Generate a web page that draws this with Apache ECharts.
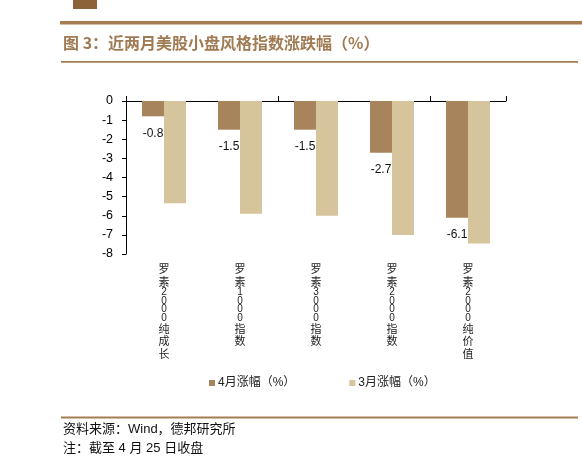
<!DOCTYPE html>
<html>
<head>
<meta charset="utf-8">
<script src="https://cdn.jsdelivr.net/npm/echarts@6/dist/echarts.min.js"></script>
<style>
html,body{margin:0;padding:0;background:#fff;}
#c{width:582px;height:467px;}
</style>
</head>
<body>
<div id="c"></div>
<script>
const categories = ['罗素2000纯成长', '罗素1000指数', '罗素3000指数', '罗素2000指数', '罗素2000纯价值'];
const aprChange = [-0.8, -1.5, -1.5, -2.7, -6.1];
const marChange = [-5.35, -5.9, -6.0, -7.0, -7.45];
const seriesNames = ['4月涨幅（%）', '3月涨幅（%）'];
const yTicks = { min: -8, max: 0, interval: 1 };

const brown = '#A07A52';
const darkBar = '#A8845C';
const lightBar = '#D5C49C';

const chart = echarts.init(document.getElementById('c'), null, { renderer: 'canvas' });

function verticalLabel(v) {
  return v.split('').map(ch => /[0-9]/.test(ch) ? '{d|' + ch + '}' : '{c|' + ch + '}').join('\n');
}

const option = {
  backgroundColor: '#fff',
  animation: false,
  textStyle: { fontFamily: 'Liberation Sans, "Noto Sans CJK SC", sans-serif' },
  grid: { left: 126, right: 76, top: 101, bottom: 213, containLabel: false },
  legend: {
    data: seriesNames,
    left: 204,
    top: 372,
    itemWidth: 6,
    itemHeight: 6,
    itemGap: 54,
    icon: 'rect',
    textStyle: { fontSize: 12, color: '#222', fontFamily: 'Liberation Sans, "Noto Sans CJK SC", sans-serif', padding: [0, 0, 0, -2] }
  },
  xAxis: [
    {
      type: 'category',
      data: categories,
      position: 'top',
      axisLine: { show: true, onZero: false, lineStyle: { color: '#000', width: 1 } },
      axisTick: { show: true, length: 5, inside: false, lineStyle: { color: '#000' } },
      axisLabel: { show: false },
      splitLine: { show: false }
    },
    {
      type: 'category',
      data: categories,
      position: 'bottom',
      axisLine: { show: false, onZero: false },
      axisTick: { show: false },
      splitLine: { show: false },
      axisLabel: {
        show: true,
        interval: 0,
        margin: 9,
        verticalAlign: 'top',
        formatter: verticalLabel,
        rich: {
          c: { fontSize: 11, lineHeight: 12.5, color: '#222', fontFamily: '"Noto Sans CJK SC", sans-serif' },
          d: { fontSize: 10, lineHeight: 8.6, color: '#222', fontFamily: 'Liberation Sans, sans-serif' }
        }
      }
    }
  ],
  yAxis: {
    type: 'value',
    min: yTicks.min,
    max: yTicks.max,
    interval: yTicks.interval,
    axisLine: { show: true, lineStyle: { color: '#000', width: 1 } },
    axisTick: { show: true, length: 4, inside: false, lineStyle: { color: '#000' } },
    axisLabel: { fontSize: 12.5, color: '#000', margin: 13, fontFamily: 'Liberation Sans, sans-serif' },
    splitLine: { show: false }
  },
  series: [
    {
      name: seriesNames[0],
      type: 'bar',
      xAxisIndex: 0,
      data: aprChange,
      barWidth: 22,
      barGap: '0%',
      itemStyle: { color: darkBar },
      label: {
        show: true,
        position: 'bottom',
        distance: 11,
        fontSize: 12,
        color: '#111',
        fontFamily: 'Liberation Sans, sans-serif',
        formatter: p => p.value.toFixed(1)
      }
    },
    {
      name: seriesNames[1],
      type: 'bar',
      xAxisIndex: 0,
      data: marChange,
      barWidth: 22,
      barGap: '0%',
      itemStyle: { color: lightBar }
    }
  ],
  graphic: [
    { type: 'rect', left: 73, top: 0, shape: { width: 24, height: 9 }, style: { fill: '#8C6239' } },
    { type: 'rect', left: 60, top: 21, shape: { width: 522, height: 3.5 }, style: { fill: '#A67C54' } },
    {
      type: 'text', left: 63, top: 35,
      style: { text: '图 3：近两月美股小盘风格指数涨跌幅（%）', fill: brown, fontSize: 16, fontWeight: 'bold', fontFamily: '"Noto Sans CJK SC", sans-serif' }
    },
    { type: 'rect', left: 61, top: 61, shape: { width: 517, height: 1.8 }, style: { fill: '#A67C54' } },
    { type: 'rect', left: 61, top: 416.5, shape: { width: 517, height: 2 }, style: { fill: '#A67C54' } },
    {
      type: 'text', left: 63, top: 423,
      style: { text: '资料来源：Wind，德邦研究所', fill: '#111', fontSize: 13, fontFamily: 'Liberation Sans, "Noto Sans CJK SC", sans-serif' }
    },
    {
      type: 'text', left: 63, top: 442,
      style: { text: '注：截至 4 月 25 日收盘', fill: '#111', fontSize: 13, fontFamily: 'Liberation Sans, "Noto Sans CJK SC", sans-serif' }
    }
  ]
};

chart.setOption(option);
</script>
</body>
</html>
